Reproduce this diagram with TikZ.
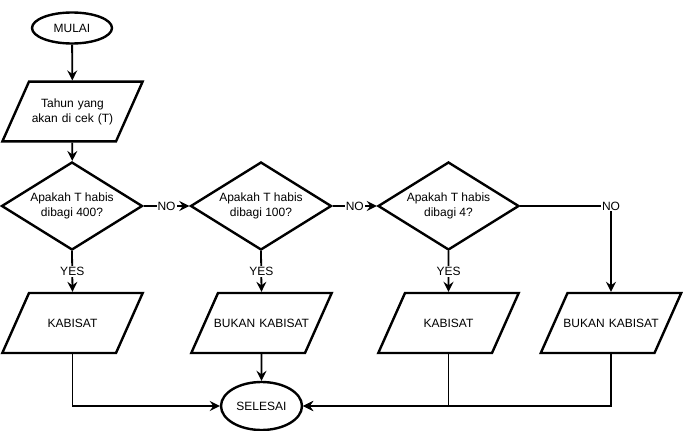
\documentclass[tikz,border=0pt]{standalone}
\usepackage{fontspec}
\setmainfont{Liberation Sans}
\usetikzlibrary{arrows.meta,shapes.geometric}
\tikzset{
	terminal/.style={draw, line width=2.4pt, ellipse, minimum width=80pt, minimum height=31pt, inner sep=0pt},
	datain/.style={draw, line width=2.4pt, trapezium, trapezium left angle=66, trapezium right angle=114, text width=87pt, align=center, inner xsep=0pt, inner ysep=25.5pt, text height=9pt, text depth=0pt},
	decide/.style={draw, line width=2.4pt, diamond, aspect=1.6, minimum width=141pt, minimum height=88pt, inner sep=0pt, align=center},
	flow/.style={line width=1.8pt, -{Stealth[length=10pt,width=10pt,inset=3.5pt]}},
	lbl/.style={fill=white, inner sep=1pt}
}

\begin{document}
\begin{tikzpicture}[x=1pt, y=-1pt, font=\fontsize{12}{15}\selectfont]
		%%%%% START %%%%%
		\useasboundingbox (0, 0) rectangle (683, 431);
		
		\node[terminal] (mulai) at (72, 28) {MULAI};
		\node[datain, text height={}, text depth={}, inner ysep=16.8pt] (tahun) at (72.5, 111.5) {Tahun yang\\akan di cek (T)};
		
		\node[decide] (cek400) at (72, 206) {Apakah T habis\\dibagi 400?};
		\node[decide] (cek100) at (261, 206) {Apakah T habis\\dibagi 100?};
		\node[decide] (cek4) at (448.5, 206) {Apakah T habis\\dibagi 4?};
		
		\node[datain] (kabisatA) at (72.5, 323) {KABISAT};
		\node[datain] (bukanA) at (261.5, 323) {\makebox[87pt]{BUKAN KABISAT}};
		\node[datain] (kabisatB) at (448.5, 323) {KABISAT};
		\node[datain] (bukanB) at (611, 323) {\makebox[87pt]{BUKAN KABISAT}};
		
		\node[terminal, minimum width=81pt, minimum height=48pt] (selesai) at (261.5, 406) {SELESAI};
		
		\draw[flow] (mulai) -- (tahun);
		\draw[flow] (tahun) -- (cek400);
		\draw[flow] (cek400) -- node[lbl] {NO} (cek100);
		\draw[flow] (cek100) -- node[lbl] {NO} (cek4);
		\draw[flow] (cek4.east) -| node[lbl] {NO} (bukanB.north);
		
		\draw[flow] (cek400.south) -- node[lbl] {YES} (kabisatA.north);
		\draw[flow] (cek100.south) -- node[lbl] {YES} (bukanA.north);
		\draw[flow] (cek4.south) -- node[lbl] {YES} (kabisatB.north);
		
		\draw[flow] (kabisatA.south) |- (selesai.west);
		\draw[flow] (bukanA.south) -- (selesai.north);
		\draw[flow] (kabisatB.south) |- (selesai.east);
		\draw[flow] (bukanB.south) |- (selesai.east);
		%%%%% END %%%%%
	\end{tikzpicture}
\end{document}
